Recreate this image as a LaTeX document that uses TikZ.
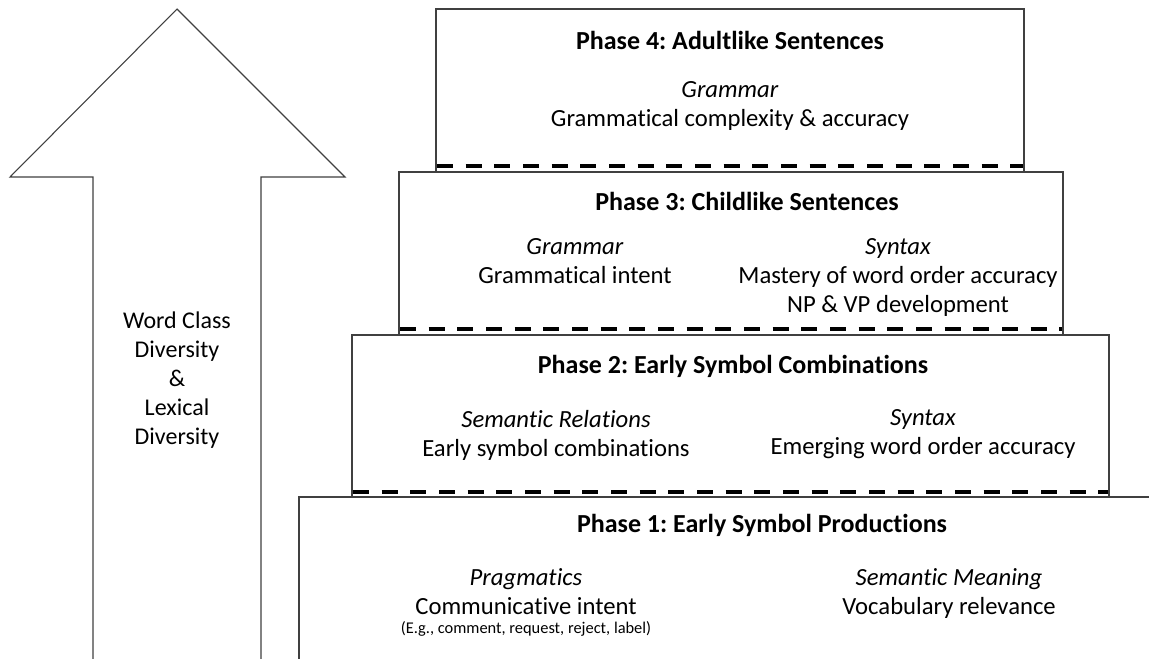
\documentclass[tikz,border=0pt]{standalone}
\usepackage{fontspec}
\setmainfont{Carlito}[Ligatures=NoCommon]
\frenchspacing
\tikzset{
  phasebox/.style = {draw=black!75, line width=0.8pt, fill=white},
  phaseline/.style = {line width=3.2pt, dash pattern=on 12pt off 9.5pt},
  phasetitle/.style = {font=\fontsize{19.5}{22}\selectfont\bfseries},
  skilltext/.style = {font=\fontsize{18.5}{21.75}\selectfont, align=center, inner sep=0pt},
  exampletext/.style = {font=\fontsize{12.3}{14}\selectfont, inner sep=0pt}
}

\begin{document}
\begin{tikzpicture}[x=0.75pt,y=-0.75pt]
  \useasboundingbox (0,0) rectangle (1149,658);
  \clip (0,0) rectangle (1149,658);
  \pgfmathsetmacro{\boxheight}{163}
  %
  % the four phases, stacked from the top
  \foreach \num/\xl/\xr/\yt in {4/436/1024/9, 3/399/1063/172, 2/352/1109/335, 1/299/1170/497} {
    \draw[phasebox] (\xl,\yt) rectangle (\xr,{\yt+\boxheight});
    \ifnum\num>1
      \draw[phaseline] (\xl+1,{\yt+\boxheight-6}) -- (\xr-1,{\yt+\boxheight-6});
    \fi
  }
  %
  % growth arrow on the left
  \draw[phasebox] (93,680) -- (93,177) -- (10,177) -- (177,9) -- (345,177) -- (261,177) -- (261,680);
  \node[skilltext, font=\fontsize{18}{21.75}\selectfont] (growth) at (177,380.5) {Word Class\\Diversity\\\&\\Lexical\\Diversity};
  %
  \node[phasetitle] (p4title) at (730,40) {Phase 4: Adultlike Sentences};
  \node[skilltext] (p4grammar) at (730,105.5) {\textit{Grammar}\\Grammatical complexity \& accuracy};
  %
  \node[phasetitle] (p3title) at (747,201) {Phase 3: Childlike Sentences};
  \node[skilltext] (p3grammar) at (575,261.5) {\textit{Grammar}\\Grammatical intent};
  \node[skilltext] (p3syntax) at (898,277.5) {\textit{Syntax}\\Mastery of word order accuracy\\NP \& VP development};
  %
  \node[phasetitle] (p2title) at (733,366) {Phase 2: Early Symbol Combinations};
  \node[skilltext] (p2semantic) at (556,435.5) {\textit{Semantic Relations}\\Early symbol combinations};
  \node[skilltext] (p2syntax) at (923,434.5) {\textit{Syntax}\\Emerging word order accuracy};
  %
  \node[phasetitle] (p1title) at (762,525) {Phase 1: Early Symbol Productions};
  \node[skilltext] (p1pragmatics) at (526,591.5) {\textit{Pragmatics}\\Communicative intent};
  \node[exampletext] (p1examples) at (526,629) {(E.g., comment, request, reject, label)};
  \node[skilltext] (p1meaning) at (949,593.5) {\textit{Semantic Meaning}\\Vocabulary relevance};
\end{tikzpicture}
\end{document}
